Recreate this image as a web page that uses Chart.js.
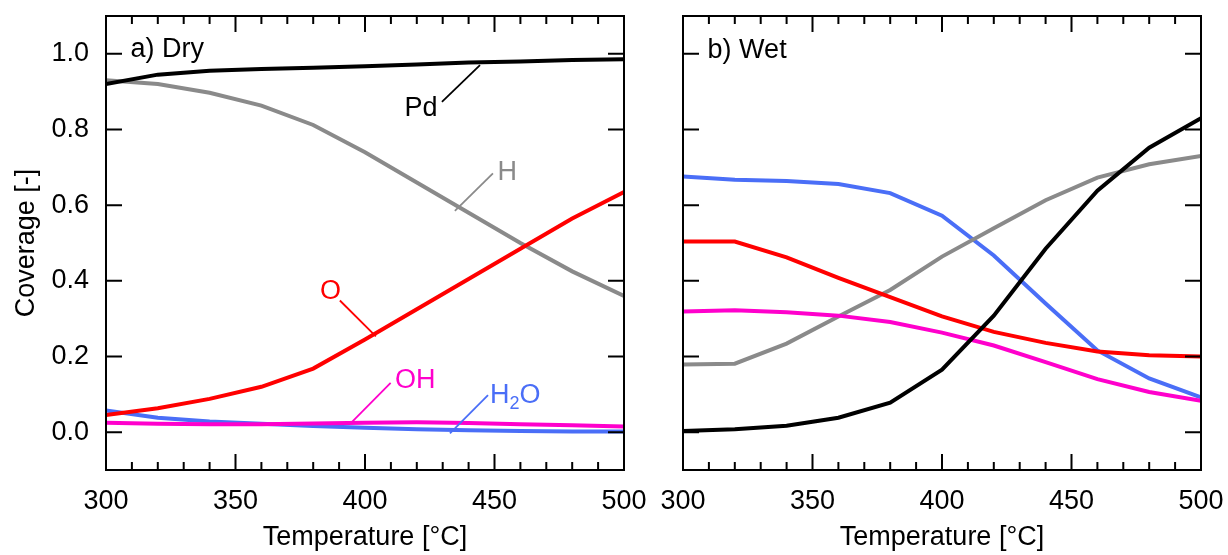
<!DOCTYPE html>
<html>
<head>
  <title>Coverage vs Temperature</title>
  <script src="https://cdn.jsdelivr.net/npm/chart.js"></script>
  <style>
    body { margin: 0; background: #fff; }
    #wrap { position: relative; width: 1228px; height: 555px; }
    canvas { position: absolute; top: 0; }
    #dryChart { left: 0; }
    #wetChart { left: 660px; }
  </style>
</head>
<body>
<div id="wrap">
  <canvas id="dryChart" width="660" height="555"></canvas>
  <canvas id="wetChart" width="568" height="555"></canvas>
</div>

<script>
  const temps = [300, 320, 340, 360, 380, 400, 420, 440, 460, 480, 500];
  const xTicks = [300, 350, 400, 450, 500];
  const yTicks = [0, 0.2, 0.4, 0.6, 0.8, 1.0];

  // a) Dry
  const dryPd  = [0.920, 0.945, 0.955, 0.960, 0.963, 0.967, 0.972, 0.977, 0.980, 0.984, 0.986];
  const dryH   = [0.930, 0.920, 0.897, 0.863, 0.812, 0.740, 0.660, 0.580, 0.500, 0.425, 0.360];
  const dryO   = [0.045, 0.063, 0.088, 0.120, 0.168, 0.245, 0.325, 0.405, 0.485, 0.565, 0.635];
  const dryOH  = [0.025, 0.022, 0.021, 0.021, 0.023, 0.025, 0.026, 0.024, 0.021, 0.018, 0.015];
  const dryH2O = [0.057, 0.038, 0.028, 0.022, 0.016, 0.012, 0.008, 0.005, 0.003, 0.002, 0.002];

  // b) Wet
  const wetPd  = [0.003, 0.008, 0.017, 0.038, 0.078, 0.165, 0.308, 0.485, 0.638, 0.752, 0.830];
  const wetH   = [0.179, 0.181, 0.234, 0.306, 0.376, 0.464, 0.539, 0.613, 0.673, 0.708, 0.730];
  const wetO   = [0.504, 0.504, 0.462, 0.408, 0.357, 0.306, 0.265, 0.236, 0.213, 0.203, 0.200];
  const wetOH  = [0.319, 0.322, 0.317, 0.308, 0.291, 0.263, 0.229, 0.185, 0.140, 0.106, 0.083];
  const wetH2O = [0.676, 0.667, 0.664, 0.656, 0.632, 0.572, 0.467, 0.340, 0.216, 0.142, 0.092];

  const FONT = "'Liberation Sans', Arial, sans-serif";
  const FS = 27;
  const C = { Pd: '#000000', H: '#8a8a8a', O: '#ff0000', OH: '#ff00cc', H2O: '#4a6ef7' };

  function series(label, values, color) {
    return {
      label: label,
      data: temps.map((t, i) => ({ x: t, y: values[i] })),
      borderColor: color,
      borderWidth: 4,
      pointRadius: 0,
      fill: false,
      tension: 0
    };
  }

  // frame + inward ticks on all four sides
  const framePlugin = {
    id: 'frame',
    afterDatasetsDraw(chart) {
      const { ctx, chartArea: a, scales } = chart;
      ctx.save();
      ctx.strokeStyle = '#000';
      ctx.lineWidth = 2;
      ctx.beginPath();
      for (let v = 300; v <= 500; v += 10) {
        const px = scales.x.getPixelForValue(v);
        const len = v % 50 === 0 ? 16 : 8;
        ctx.moveTo(px, a.bottom); ctx.lineTo(px, a.bottom - len);
        ctx.moveTo(px, a.top); ctx.lineTo(px, a.top + len);
      }
      yTicks.forEach(v => {
        const py = scales.y.getPixelForValue(v);
        ctx.moveTo(a.left, py); ctx.lineTo(a.left + 16, py);
        ctx.moveTo(a.right, py); ctx.lineTo(a.right - 16, py);
      });
      ctx.stroke();
      ctx.strokeRect(a.left, a.top, a.right - a.left, a.bottom - a.top);
      ctx.restore();
    }
  };

  // text labels with leader lines, placed in data coordinates
  const labelPlugin = {
    id: 'labels',
    afterDatasetsDraw(chart, args, opts) {
      const { ctx, scales } = chart;
      const X = v => scales.x.getPixelForValue(v);
      const Y = v => scales.y.getPixelForValue(v);
      ctx.save();
      (opts.items || []).forEach(it => {
        if (it.line) {
          ctx.strokeStyle = it.color;
          ctx.lineWidth = 1.8;
          ctx.beginPath();
          ctx.moveTo(X(it.line[0]), Y(it.line[1]));
          ctx.lineTo(X(it.line[2]), Y(it.line[3]));
          ctx.stroke();
        }
        ctx.fillStyle = it.color;
        ctx.textBaseline = 'alphabetic';
        let x = X(it.x);
        const y = Y(it.y);
        const parts = it.parts || [[it.text, false]];
        const font = p => (p[1] ? '18px ' : FS + 'px ') + FONT;
        if (it.align === 'center') {
          let w = 0;
          parts.forEach(p => { ctx.font = font(p); w += ctx.measureText(p[0]).width; });
          x -= w / 2;
        }
        ctx.textAlign = 'left';
        parts.forEach(p => {
          ctx.font = font(p);
          ctx.fillText(p[0], x, p[1] ? y + 6 : y);
          x += ctx.measureText(p[0]).width;
        });
      });
      ctx.restore();
    }
  };

  function makeChart(id, datasets, showY, yWidth, padRight, items) {
    return new Chart(document.getElementById(id), {
      type: 'line',
      data: { datasets: datasets },
      options: {
        responsive: false,
        animation: false,
        devicePixelRatio: 1,
        layout: { padding: { top: 16, right: padRight, bottom: 0, left: 0 } },
        plugins: { legend: { display: false }, tooltip: { enabled: false }, labels: { items: items } },
        scales: {
          x: {
            type: 'linear', min: 300, max: 500,
            afterBuildTicks: s => { s.ticks = xTicks.map(v => ({ value: v })); },
            afterFit: s => { s.height = 85; s.paddingLeft = 0; s.paddingRight = 0; },
            grid: { display: false },
            border: { display: false },
            ticks: { color: '#000', font: { family: FONT, size: FS }, padding: 7, maxRotation: 0 },
            title: { display: true, text: 'Temperature [°C]', color: '#000', font: { family: FONT, size: FS }, padding: { top: 0, bottom: 1 } }
          },
          y: {
            min: -0.1, max: 1.1,
            afterBuildTicks: s => { s.ticks = yTicks.map(v => ({ value: v })); },
            afterFit: s => { s.width = yWidth; s.paddingTop = 0; s.paddingBottom = 0; },
            grid: { display: false },
            border: { display: false },
            ticks: { display: showY, color: '#000', font: { family: FONT, size: FS }, padding: 9, callback: v => v.toFixed(1) },
            title: { display: showY, text: 'Coverage [-]', color: '#000', font: { family: FONT, size: FS }, padding: { top: 10, bottom: 0 } }
          }
        }
      },
      plugins: [framePlugin, labelPlugin]
    });
  }

  makeChart('dryChart', [
    series('OH', dryOH, C.OH),
    series('O', dryO, C.O),
    series('Pd', dryPd, C.Pd),
    series('H', dryH, C.H),
    series('H2O', dryH2O, C.H2O)
  ], true, 106, 36, [
    { text: 'a) Dry', color: '#000', x: 309.5, y: 0.992 },
    { text: 'Pd', color: C.Pd, x: 421.6, y: 0.836, align: 'center', line: [429.7, 0.873, 444.4, 0.970] },
    { text: 'H', color: C.H, x: 451.2, y: 0.667, line: [434.7, 0.585, 449.4, 0.684] },
    { text: 'O', color: C.O, x: 382.6, y: 0.353, line: [390.3, 0.348, 404.2, 0.253] },
    { text: 'OH', color: C.OH, x: 411.6, y: 0.116, line: [395.0, 0.027, 409.9, 0.130] },
    { parts: [['H', false], ['2', true], ['O', false]], color: C.H2O, x: 448.3, y: 0.076, line: [432.8, -0.003, 447.5, 0.098] }
  ]);

  makeChart('wetChart', [
    series('Pd', wetPd, C.Pd),
    series('O', wetO, C.O),
    series('OH', wetOH, C.OH),
    series('H', wetH, C.H),
    series('H2O', wetH2O, C.H2O)
  ], false, 23, 27, [
    { text: 'b) Wet', color: '#000', x: 309.5, y: 0.988 }
  ]);
</script>
</body>
</html>
